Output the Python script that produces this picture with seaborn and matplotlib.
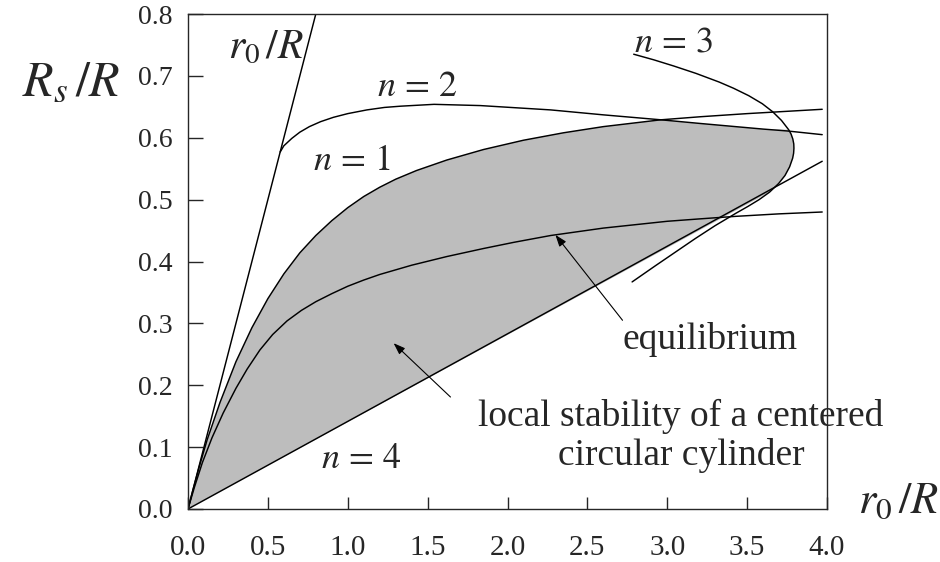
import matplotlib
matplotlib.use("Agg")
import matplotlib.pyplot as plt
import seaborn as sns

# ---- data ----
line_x = [0.0, 0.8]
line_y = [0.0, 0.8]

n1_x = [0, 0.03, 0.07, 0.12, 0.2, 0.3, 0.4, 0.5, 0.6, 0.7, 0.8, 0.9, 1.0, 1.1, 1.2, 1.3, 1.43, 1.62, 1.85, 2.1, 2.35, 2.6, 2.96, 3.21, 3.5, 3.97]
n1_y = [0, 0.03, 0.068, 0.112, 0.172, 0.238, 0.293, 0.34, 0.38, 0.414, 0.442, 0.466, 0.487, 0.505, 0.52, 0.533, 0.547, 0.564, 0.581, 0.596, 0.608, 0.618, 0.629, 0.634, 0.639, 0.646]

n2_x = [0.577, 0.6, 0.65, 0.7, 0.76, 0.83, 0.91, 1.0, 1.12, 1.23, 1.33, 1.54, 1.83, 2.27, 2.6, 2.96, 3.21, 3.6, 3.75, 3.97]
n2_y = [0.577, 0.587, 0.599, 0.609, 0.618, 0.626, 0.633, 0.639, 0.645, 0.649, 0.651, 0.654, 0.652, 0.645, 0.637, 0.629, 0.623, 0.614, 0.611, 0.605]

n3_x = [2.79, 2.915, 3.04, 3.18, 3.325, 3.415, 3.51, 3.595, 3.66, 3.715, 3.76, 3.775, 3.786, 3.792, 3.793, 3.791, 3.785, 3.766, 3.737, 3.697, 3.64, 3.575, 3.505, 3.43, 3.365, 3.30, 3.175, 3.05, 2.925, 2.78]
n3_y = [0.735, 0.726, 0.716, 0.704, 0.690, 0.680, 0.668, 0.655, 0.642, 0.628, 0.613, 0.606, 0.598, 0.590, 0.583, 0.575, 0.567, 0.553, 0.539, 0.526, 0.512, 0.500, 0.489, 0.478, 0.468, 0.458, 0.437, 0.415, 0.393, 0.367]

n4_x = [0.0, 3.97]
n4_y = [0.0, 0.562]

eq_x = [0, 0.04, 0.09, 0.15, 0.22, 0.3, 0.37, 0.45, 0.53, 0.62, 0.71, 0.8, 0.9, 1.0, 1.1, 1.2, 1.4, 1.62, 1.85, 2.04, 2.27, 2.6, 3.0, 3.21, 3.43, 3.7, 3.97]
eq_y = [0, 0.035, 0.075, 0.115, 0.155, 0.195, 0.226, 0.257, 0.282, 0.304, 0.321, 0.335, 0.348, 0.36, 0.37, 0.379, 0.394, 0.408, 0.421, 0.431, 0.442, 0.454, 0.465, 0.469, 0.473, 0.477, 0.480]

x_ticks = [0.0, 0.5, 1.0, 1.5, 2.0, 2.5, 3.0, 3.5, 4.0]
y_ticks = [0.0, 0.1, 0.2, 0.3, 0.4, 0.5, 0.6, 0.7, 0.8]

# ---- style ----
sns.set_style("ticks")
plt.rcParams['font.family'] = ['Liberation Serif', 'DejaVu Serif']
plt.rcParams['mathtext.fontset'] = 'stix'

fig = plt.figure(figsize=(9.4, 5.62), dpi=100)
ax = fig.add_axes([188/940, 1-509/562, (827-188)/940, (509-14)/562])

# shaded stability region: n=1 up to its crossing with n=2, then n=2, then the n=3 nose, back along n=4
i1 = n1_x.index(2.96)
i2a = n2_x.index(2.96) + 1
i2b = n2_x.index(3.75)
i3a = n3_y.index(0.613)
i3b = n3_y.index(0.512)
fx = n1_x[:i1 + 1] + n2_x[i2a:i2b] + n3_x[i3a:i3b + 1] + [n4_x[0]]
fy = n1_y[:i1 + 1] + n2_y[i2a:i2b] + n3_y[i3a:i3b + 1] + [n4_y[0]]
ax.fill(fx, fy, color='#bdbdbd', lw=0, zorder=1)

lw = 1.05
kw = dict(color='black', linewidth=lw, sort=False, estimator=None, ax=ax, legend=False)
sns.lineplot(x=line_x, y=line_y, **kw)
sns.lineplot(x=n1_x, y=n1_y, **kw)
sns.lineplot(x=n2_x, y=n2_y, **kw)
sns.lineplot(x=n3_x, y=n3_y, **kw)
sns.lineplot(x=n4_x, y=n4_y, **kw)
sns.lineplot(x=eq_x, y=eq_y, **kw)

ax.set_xlim(0, 4.0)
ax.set_ylim(0, 0.8)
ax.set_xticks(x_ticks)
ax.set_yticks(y_ticks)
ax.set_xticklabels([f"{v:.1f}" for v in x_ticks])
ax.set_yticklabels([f"{v:.1f}" for v in y_ticks])
ax.tick_params(axis='x', direction='in', length=9, width=1, pad=19, labelsize=21)
ax.tick_params(axis='y', direction='in', length=11, width=1, pad=11, labelsize=20)
for s in ax.spines.values():
    s.set_linewidth(1.0)
    s.set_visible(True)
ax.set_xlabel('')
ax.set_ylabel('')

# annotations
tfs = 26
ax.text(0.25, 0.729, r'$r_0\,/R$', fontsize=30, va='baseline', ha='left')
ax.text(1.18, 0.667, r'$n\,=\,2$', fontsize=tfs, va='baseline', ha='left')
ax.text(0.78, 0.548, r'$n\,=\,1$', fontsize=tfs, va='baseline', ha='left')
ax.text(2.79, 0.739, r'$n\,=\,3$', fontsize=tfs, va='baseline', ha='left')
ax.text(0.83, 0.066, r'$n\,=\,4$', fontsize=tfs, va='baseline', ha='left')
ax.text(2.72, 0.259, 'equilibrium', fontsize=27, va='baseline', ha='left')
ax.text(3.085, 0.071, 'local stability of a centered\ncircular cylinder', fontsize=27,
        va='baseline', ha='center', multialignment='center', linespacing=1.15)

arrowprops = dict(arrowstyle='-|>,head_length=0.7,head_width=0.25', color='black', lw=0.8,
                  shrinkA=0, shrinkB=0)
ax.annotate('', xy=(2.30, 0.443), xytext=(2.72, 0.305), arrowprops=arrowprops)
ax.annotate('', xy=(1.287, 0.268), xytext=(1.643, 0.181), arrowprops=arrowprops)

# axis labels
fig.text(22/940, 1-95/562, r'$R_s\,/R$', fontsize=36, va='baseline', ha='left')
fig.text(858/940, 1-513/562, r'$r_0\,/R$', fontsize=32, va='baseline', ha='left')

fig.savefig('out.png', dpi=100)
